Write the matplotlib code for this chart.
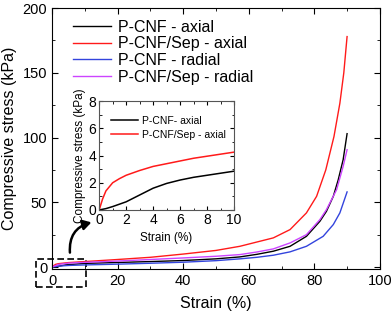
import matplotlib
matplotlib.use("Agg")
import matplotlib.pyplot as plt
from matplotlib.patches import Rectangle
from matplotlib.ticker import MultipleLocator

plt.rcParams['font.family'] = ['Liberation Sans', 'DejaVu Sans']

# main curves (strain %, stress kPa)
strain_red = [0, 1, 2, 5, 10, 20, 30, 40, 50, 57.3, 62, 67.5, 72.6, 77.6, 80.7, 83.5, 86, 87.8, 89, 90]
stress_red = [0, 2, 2.6, 3.4, 4.2, 5.8, 7.5, 10, 12.8, 16, 19, 22.5, 28.9, 41.8, 54.6, 75, 100.8, 126.5, 150, 178]

strain_black = [0, 2, 4, 10, 20, 30, 40, 50, 57.3, 62.5, 67.5, 72.6, 77.6, 81.7, 83.7, 85.8, 87.3, 88.8, 90]
stress_black = [0, 0.6, 1.6, 2.8, 3.5, 4.2, 5, 6.3, 7.8, 9.8, 12.2, 16, 23.7, 35.3, 43, 54.6, 67.4, 82.9, 103]

strain_mag = [0, 2, 5, 10, 20, 30, 40, 50, 57.3, 62.5, 67.5, 72.6, 77.6, 81.7, 83.7, 86.8, 88.8, 90]
stress_mag = [0, 2, 3, 3.6, 4.6, 5.8, 7, 8.3, 9.6, 11.6, 14, 18.6, 25, 36.6, 44.3, 59.7, 77.7, 90.6]

strain_blue = [0, 2, 5, 10, 20, 30, 40, 50, 57.3, 62.5, 67.5, 72.6, 77.6, 82.7, 85.8, 87.8, 90]
stress_blue = [0, 0.7, 1.2, 1.6, 2.2, 2.9, 3.7, 4.9, 6.3, 7.5, 9.1, 11.7, 16, 23.7, 32.8, 41.8, 58]

# inset curves
in_strain_red = [0, 0.25, 0.5, 1, 1.5, 2, 3, 4, 5, 6, 7, 8, 9, 10]
in_stress_red = [0, 0.8, 1.4, 2.0, 2.3, 2.55, 2.9, 3.2, 3.4, 3.6, 3.8, 3.95, 4.1, 4.25]
in_strain_black = [0, 0.5, 1, 2, 3, 4, 5, 6, 7, 8, 9, 10]
in_stress_black = [0, 0.1, 0.25, 0.6, 1.1, 1.6, 1.95, 2.2, 2.4, 2.55, 2.7, 2.85]

c_red = '#ff1a1a'
c_black = '#000000'
c_blue = '#3344dd'
c_mag = '#cc44ff'

fig = plt.figure(figsize=(3.92, 3.12), dpi=100)
ax = fig.add_axes([0.133, 0.138, 0.836, 0.836])

ax.plot(strain_black, stress_black, color=c_black, lw=1, label='P-CNF - axial')
ax.plot(strain_red, stress_red, color=c_red, lw=1, label='P-CNF/Sep - axial')
ax.plot(strain_blue, stress_blue, color=c_blue, lw=1, label='P-CNF - radial')
ax.plot(strain_mag, stress_mag, color=c_mag, lw=1, label='P-CNF/Sep - radial')

ax.set_xlim(0, 100)
ax.set_ylim(-1.5, 200)
ax.set_yticks([0, 50, 100, 150, 200])
ax.xaxis.set_major_locator(MultipleLocator(20))
ax.xaxis.set_minor_locator(MultipleLocator(10))
ax.yaxis.set_minor_locator(MultipleLocator(25))
ax.tick_params(which='both', direction='in', top=True, right=True, labelsize=10.5)
ax.tick_params(which='major', length=4)
ax.tick_params(which='minor', length=2.5)
ax.set_xlabel('Strain (%)', fontsize=11.5, labelpad=6)
ax.set_ylabel('Compressive stress (kPa)', fontsize=11.5)
ax.legend(loc='upper left', frameon=False, fontsize=11.5, handlelength=2.4,
          handletextpad=0.4, labelspacing=0.1, bbox_to_anchor=(0.02, 1.01))

ax.add_patch(Rectangle((-4.9, -15.8), 15.3, 21.6, fill=False, ls=(0, (4, 2)),
                       lw=1.2, color='black', clip_on=False))
ax.annotate('', xy=(12.8, 35), xytext=(5.5, 9),
            arrowprops=dict(arrowstyle='-|>,head_width=0.3,head_length=0.5',
                            connectionstyle='arc3,rad=-0.45', lw=1.8, color='black'))

ins = fig.add_axes([0.253, 0.327, 0.344, 0.349])
ins.plot(in_strain_black, in_stress_black, color=c_black, lw=1.1, label='P-CNF- axial')
ins.plot(in_strain_red, in_stress_red, color=c_red, lw=1.1, label='P-CNF/Sep - axial')
ins.set_xlim(0, 10)
ins.set_ylim(0, 8)
ins.xaxis.set_major_locator(MultipleLocator(2))
ins.xaxis.set_minor_locator(MultipleLocator(1))
ins.yaxis.set_major_locator(MultipleLocator(2))
ins.yaxis.set_minor_locator(MultipleLocator(1))
ins.tick_params(which='both', direction='in', top=True, right=True, labelsize=10, pad=2)
ins.tick_params(which='major', length=3)
ins.tick_params(which='minor', length=1.8)
ins.set_xlabel('Strain (%)', fontsize=8.5)
ins.set_ylabel('Compressive stress (kPa)', fontsize=8.5, labelpad=2)
for s in ins.spines.values():
    s.set_color('#555555')
ins.legend(loc='upper left', frameon=False, fontsize=7.5, handlelength=2.6,
           handletextpad=0.4, labelspacing=0.35, bbox_to_anchor=(0.02, 0.95))

fig.savefig('out.png', dpi=100)
